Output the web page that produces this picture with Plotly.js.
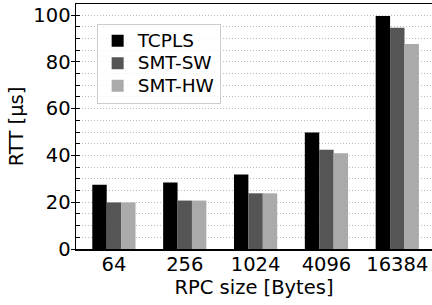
<!DOCTYPE html>
<html>
<head>
<meta charset="utf-8">
<script src="https://cdn.plot.ly/plotly-3.0.1.min.js"></script>
<style>html,body{margin:0;padding:0;background:#fff;}#chart{width:432px;height:305px;}</style>
</head>
<body>
<div id="chart"></div>
<script>
const categories = ["64", "256", "1024", "4096", "16384"];
const seriesNames = ["TCPLS", "SMT-SW", "SMT-HW"];
const tcpls = [27.5, 28.4, 31.8, 49.8, 99.6];
const smtSw = [19.9, 20.7, 23.8, 42.4, 94.5];
const smtHw = [19.9, 20.7, 23.8, 40.9, 87.6];
const colors = ["#000000", "#555555", "#aaaaaa"];

const values = [tcpls, smtSw, smtHw];
const traces = values.map((v, i) => ({
  type: "bar",
  name: '<span style="font-size:18.5px">' + seriesNames[i] + '</span>',
  x: categories,
  y: v,
  marker: {color: colors[i], line: {width: 0}},
  hoverinfo: "skip"
}));

const font = {family: "DejaVu Sans, sans-serif", size: 19.5, color: "#000"};

const layout = {
  width: 432, height: 305,
  margin: {l: 76, r: 0, t: 4, b: 55.5, pad: 0},
  paper_bgcolor: "#fff",
  plot_bgcolor: "#fff",
  font: font,
  barmode: "group",
  bargap: 0.39,
  bargroupgap: 0,
  showlegend: true,
  legend: {
    x: 0.058, y: 0.92, xanchor: "left", yanchor: "top",
    bgcolor: "rgba(255,255,255,0.8)",
    bordercolor: "#cccccc", borderwidth: 1,
    font: {family: "DejaVu Sans, sans-serif", size: 15, color: "#000"},
    tracegroupgap: 0,
    itemwidth: 30
  },
  xaxis: {
    type: "category",
    range: [-0.535, 4.49],
    showline: true, linecolor: "#000", linewidth: 1.5, mirror: true,
    ticks: "", showgrid: false, zeroline: false,
    tickfont: font,
    ticklabelstandoff: -3,
    title: {text: "RPC size [Bytes]", font: font, standoff: 2}
  },
  yaxis: {
    range: [0, 104.7],
    tickvals: [0, 20, 40, 60, 80, 100],
    ticks: "outside", ticklen: 4, tickcolor: "#000", tickwidth: 1,
    showline: true, linecolor: "#000", linewidth: 1.5, mirror: true,
    showgrid: true, gridcolor: "#bbbbbb", griddash: "1px,2px", gridwidth: 1,
    zeroline: false,
    minor: {dtick: 5, tick0: 0, ticks: "inside", ticklen: 4, tickcolor: "#000",
            showgrid: true, gridcolor: "#bbbbbb", griddash: "1px,2px", gridwidth: 1},
    tickfont: font,
    ticklabelstandoff: -4,
    title: {text: "RTT [µs]", font: font, standoff: 4}
  }
};

Plotly.newPlot("chart", traces, layout, {staticPlot: true, displayModeBar: false});
</script>
</body>
</html>
